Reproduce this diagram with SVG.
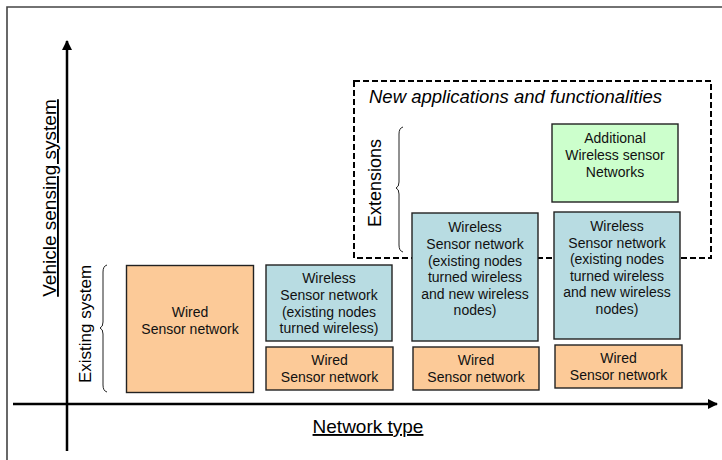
<svg xmlns="http://www.w3.org/2000/svg" width="722" height="460" viewBox="0 0 722 460">
  <defs>
    <style>
      .frame { stroke: #444; stroke-width: 1.6; fill: none; }
      .axis { stroke: #000; stroke-width: 2.5; fill: none; }
      .brace { stroke: #222; stroke-width: 1; fill: none; }
      .wired { fill: #FCCA98; stroke: #222; stroke-width: 1.4; }
      .wsn { fill: #B8DCE2; stroke: #222; stroke-width: 1.4; }
      .extra { fill: #CCFFCC; stroke: #222; stroke-width: 1.4; }
      .zone { fill: none; stroke: #000; stroke-width: 2; stroke-dasharray: 6 3; }
      .t { font-family: "Liberation Sans", Arial, sans-serif; font-size: 14px; text-anchor: middle; fill: #111; }
      .lbl { font-family: "Liberation Sans", Arial, sans-serif; text-anchor: middle; fill: #000; }
      .title { font-family: "Liberation Sans", Arial, sans-serif; font-size: 18.5px; font-style: italic; text-anchor: start; fill: #000; }
    </style>
    <marker id="arrow" viewBox="0 0 10 10" refX="9" refY="5" markerWidth="4" markerHeight="4" orient="auto" markerUnits="strokeWidth">
      <path d="M0,0 L10,5 L0,10 Z" fill="#000"/>
    </marker>
  </defs>

  <rect width="722" height="460" fill="#fff"/>

  <!-- page frame (top and left edges) -->
  <path class="frame" d="M7,460 V7 H722"/>

  <!-- axes -->
  <g id="axes">
    <line class="axis" x1="67" y1="451" x2="67" y2="41" marker-end="url(#arrow)"/>
    <line class="axis" x1="13" y1="404" x2="717" y2="404" marker-end="url(#arrow)"/>
    <text class="lbl" x="368" y="433" font-size="19" text-decoration="underline">Network type</text>
    <text class="lbl" transform="translate(56,198) rotate(-90)" font-size="19" text-decoration="underline">Vehicle sensing system</text>
  </g>

  <!-- region of new functions -->
  <g id="extension-zone">
    <rect class="zone" x="354" y="81" width="357" height="177"/>
    <text class="title" x="369" y="103">New applications and functionalities</text>
  </g>

  <!-- braces with their labels -->
  <g id="existing-system">
    <path class="brace" d="M107,265 Q103,266 103,272 V322 Q103,327 100,328 Q103,329 103,334 V385 Q103,391 107,392"/>
    <text class="lbl" transform="translate(91,324) rotate(-90)" font-size="17">Existing system</text>
  </g>
  <g id="extensions">
    <path class="brace" d="M403,127 Q399,128 399,134 V182 Q399,187 396,188 Q399,189 399,194 V245 Q399,251 403,252"/>
    <text class="lbl" transform="translate(381,183) rotate(-90)" font-size="18">Extensions</text>
  </g>

  <!-- column 1 -->
  <g id="wired-1">
    <rect class="wired" x="126.5" y="265.5" width="127" height="127"/>
    <text class="t" x="190" y="317">Wired</text>
    <text class="t" x="190" y="334">Sensor network</text>
  </g>

  <!-- column 2 -->
  <g id="wsn-2">
    <rect class="wsn" x="266" y="265" width="126" height="76"/>
    <text class="t" x="329" y="283">Wireless</text>
    <text class="t" x="329" y="300">Sensor network</text>
    <text class="t" x="329" y="317">(existing nodes</text>
    <text class="t" x="329" y="333">turned wireless)</text>
  </g>
  <g id="wired-2">
    <rect class="wired" x="266" y="347" width="127" height="43"/>
    <text class="t" x="329.5" y="365">Wired</text>
    <text class="t" x="329.5" y="382">Sensor network</text>
  </g>

  <!-- column 3 -->
  <g id="wsn-3">
    <rect class="wsn" x="412" y="213" width="126" height="128"/>
    <text class="t" x="475" y="232">Wireless</text>
    <text class="t" x="475" y="249">Sensor network</text>
    <text class="t" x="475" y="266">(existing nodes</text>
    <text class="t" x="475" y="282">turned wireless</text>
    <text class="t" x="475" y="299">and new wireless</text>
    <text class="t" x="475" y="315">nodes)</text>
  </g>
  <g id="wired-3">
    <rect class="wired" x="413" y="347" width="126" height="43"/>
    <text class="t" x="476" y="365">Wired</text>
    <text class="t" x="476" y="382">Sensor network</text>
  </g>

  <!-- column 4 -->
  <g id="additional-wsn">
    <rect class="extra" x="552" y="124" width="126" height="78"/>
    <text class="t" x="615" y="143">Additional</text>
    <text class="t" x="615" y="160">Wireless sensor</text>
    <text class="t" x="615" y="177">Networks</text>
  </g>
  <g id="wsn-4">
    <rect class="wsn" x="554" y="212" width="126" height="127"/>
    <text class="t" x="617" y="231">Wireless</text>
    <text class="t" x="617" y="248">Sensor network</text>
    <text class="t" x="617" y="264">(existing nodes</text>
    <text class="t" x="617" y="281">turned wireless</text>
    <text class="t" x="617" y="297">and new wireless</text>
    <text class="t" x="617" y="314">nodes)</text>
  </g>
  <g id="wired-4">
    <rect class="wired" x="555" y="345" width="127" height="43"/>
    <text class="t" x="618.5" y="363">Wired</text>
    <text class="t" x="618.5" y="380">Sensor network</text>
  </g>
</svg>
